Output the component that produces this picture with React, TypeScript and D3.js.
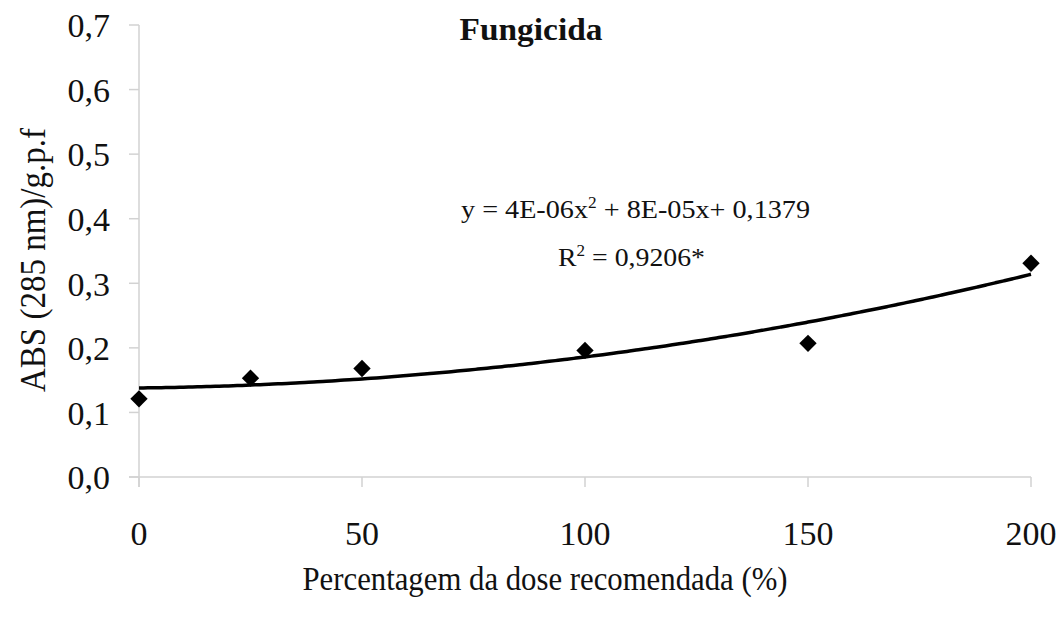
import React from "react";
import * as d3 from "d3";

const doses = [0, 25, 50, 100, 150, 200];
const absValues = [0.121, 0.153, 0.168, 0.196, 0.207, 0.331];
const yTicks = [0, 0.1, 0.2, 0.3, 0.4, 0.5, 0.6, 0.7];
const xTicks = [0, 50, 100, 150, 200];
const coefA = 4e-6;
const coefB = 8e-5;
const coefC = 0.1379;

const W = 1064;
const H = 618;
const FONT = "'Liberation Serif', 'Times New Roman', Times, serif";

export default function App() {
  const x = d3.scaleLinear().domain([0, 200]).range([139, 1031]);
  const y = d3.scaleLinear().domain([0, 0.7]).range([477, 25]);
  const fmt = (v: number) => v.toFixed(1).replace(".", ",");

  const curveXs = d3.range(0, 200.01, 2);
  const line = d3
    .line<number>()
    .x((d) => x(d))
    .y((d) => y(coefA * d * d + coefB * d + coefC))
    .curve(d3.curveMonotoneX);

  const diamond = d3.symbol(d3.symbolSquare, 150)() as string;
  const axisColor = "#d2d2d2";

  return (
    <svg
      width={W}
      height={H}
      style={{ position: "absolute", left: 0, top: 0, background: "#fff", fontFamily: FONT }}
    >
      {/* axes */}
      <line x1={x(0)} x2={x(0)} y1={y(0.7)} y2={y(0) + 10} stroke={axisColor} strokeWidth={1.5} />
      <line x1={x(0) - 10} x2={x(200)} y1={y(0)} y2={y(0)} stroke={axisColor} strokeWidth={1.5} />
      {yTicks.map((t) => (
        <g key={"y" + t}>
          <line x1={x(0) - 10} x2={x(0)} y1={y(t)} y2={y(t)} stroke={axisColor} strokeWidth={1.5} />
          <text x={110} y={y(t)} dy="0.36em" textAnchor="end" fontSize={34} fill="#111">
            {fmt(t)}
          </text>
        </g>
      ))}
      {xTicks.map((t) => (
        <g key={"x" + t}>
          <line x1={x(t)} x2={x(t)} y1={y(0)} y2={y(0) + 10} stroke={axisColor} strokeWidth={1.5} />
          <text x={x(t)} y={545} textAnchor="middle" fontSize={34} fill="#111">
            {t}
          </text>
        </g>
      ))}

      {/* trend line */}
      <path d={line(curveXs) as string} fill="none" stroke="#000" strokeWidth={3.5} />

      {/* points */}
      {doses.map((d, i) => (
        <path
          key={"p" + d}
          d={diamond}
          transform={`translate(${x(d)},${y(absValues[i])}) rotate(45)`}
          fill="#000"
        />
      ))}

      {/* title */}
      <text x={531} y={40} textAnchor="middle" fontSize={32} fontWeight="bold" fill="#111" textLength={143} lengthAdjust="spacingAndGlyphs">
        Fungicida
      </text>

      {/* equation */}
      <text x={461} y={218} fontSize={26} fill="#111" textLength={349} lengthAdjust="spacingAndGlyphs">
        y = 4E-06x<tspan dy={-10} fontSize={16}>2</tspan>
        <tspan dy={10}> + 8E-05x+ 0,1379</tspan>
      </text>
      <text x={558} y={266} fontSize={26} fill="#111" textLength={147} lengthAdjust="spacingAndGlyphs">
        R<tspan dy={-10} fontSize={16}>2</tspan>
        <tspan dy={10}> = 0,9206*</tspan>
      </text>

      {/* axis titles */}
      <text
        transform={`translate(45,260) rotate(-90)`}
        textAnchor="middle"
        fontSize={35}
        fill="#111"
        textLength={264}
        lengthAdjust="spacingAndGlyphs"
      >
        ABS (285 nm)/g.p.f
      </text>
      <text x={545} y={590} textAnchor="middle" fontSize={34} fill="#111" textLength={485} lengthAdjust="spacingAndGlyphs">
        Percentagem da dose recomendada (%)
      </text>
    </svg>
  );
}
